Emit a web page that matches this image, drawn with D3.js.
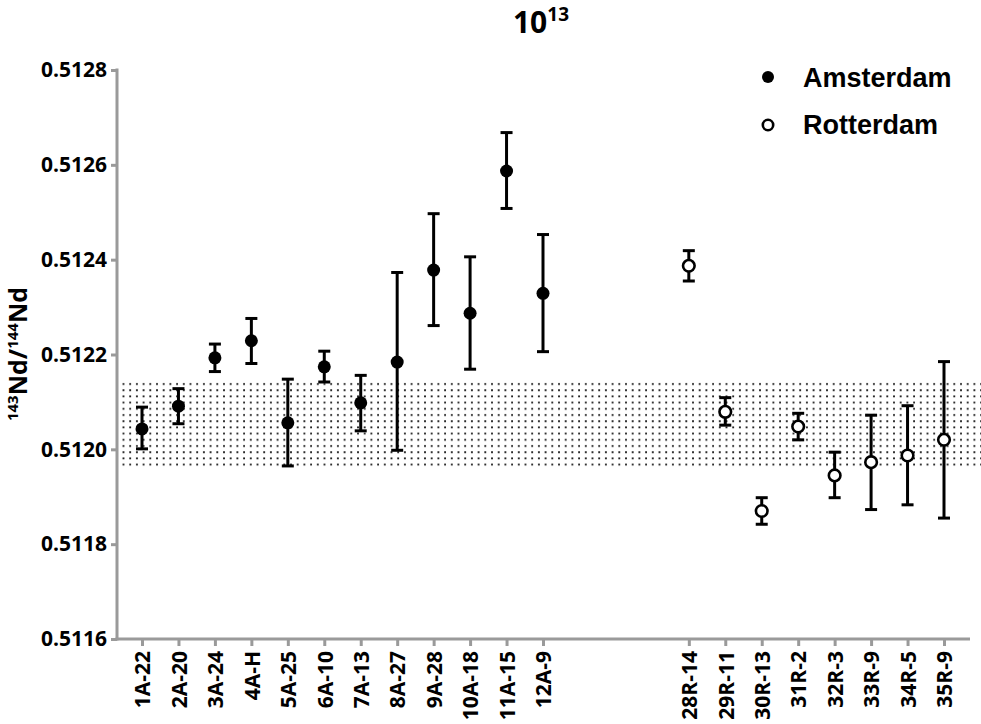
<!DOCTYPE html>
<html>
<head>
<meta charset="utf-8">
<script src="https://cdn.jsdelivr.net/npm/d3@7"></script>
<style>
  body { margin: 0; background: #fff; }
  svg { display: block; }
</style>
</head>
<body>
<svg id="chart" width="981" height="724"></svg>
<script>
// ---- data ----
const amsCategories = ["1A-22","2A-20","3A-24","4A-H","5A-25","6A-10","7A-13","8A-27","9A-28","10A-18","11A-15","12A-9"];
const amsMean = [0.512043,0.512091,0.512193,0.512229,0.512056,0.512174,0.512098,0.512184,0.512378,0.512287,0.512587,0.512329];
const amsLow  = [0.512001,0.512054,0.512164,0.512181,0.511965,0.512142,0.512039,0.511998,0.512261,0.512169,0.512508,0.512206];
const amsHigh = [0.512089,0.512128,0.512222,0.512276,0.512148,0.512207,0.512156,0.512373,0.512497,0.512406,0.512668,0.512453];

const gapCategories = ["_g1","_g2","_g3"];

const rotCategories = ["28R-14","29R-11","30R-13","31R-2","32R-3","33R-9","34R-5","35R-9"];
const rotMean = [0.512387,0.512079,0.511870,0.512048,0.511945,0.511973,0.511987,0.512020];
const rotLow  = [0.512355,0.512051,0.511842,0.512020,0.511898,0.511873,0.511883,0.511855];
const rotHigh = [0.512419,0.512109,0.511898,0.512076,0.511994,0.512072,0.512092,0.512185];

const bandRange = [0.511963, 0.512146];
const yTicks = [0.5116,0.5118,0.5120,0.5122,0.5124,0.5126,0.5128];
const yDomain = [0.5116, 0.5128];
const legendLabels = ["Amsterdam","Rotterdam"];

// ---- layout ----
const svg = d3.select("#chart");
const axisLeftX = 117, axisRightX = 970, yTop = 70, yBottom = 639;
const allCats = amsCategories.concat(gapCategories, rotCategories);

const x = d3.scalePoint().domain(allCats).range([142, 944]).padding(0);
const y = d3.scaleLinear().domain(yDomain).range([yBottom, yTop]);

const defs = svg.append("defs");
const pat = defs.append("pattern").attr("id","dots").attr("patternUnits","userSpaceOnUse")
  .attr("width", 6.7).attr("height", 6.2).attr("x", 0).attr("y", y(bandRange[1]) + 1);
pat.append("rect").attr("x",2).attr("y",2).attr("width",1.8).attr("height",1.8).attr("fill","#111");

// band
svg.append("rect")
  .attr("x", axisLeftX + 2).attr("width", 981 - axisLeftX - 2)
  .attr("y", y(bandRange[1])).attr("height", y(bandRange[0]) - y(bandRange[1]))
  .attr("fill", "url(#dots)");

// axes
const axisColor = "#9a9a9a";
const fontMain = "'Open Sans', sans-serif";
const yAxis = svg.append("g").attr("transform", `translate(${axisLeftX},0)`)
  .call(d3.axisLeft(y).tickValues(yTicks).tickFormat(d3.format(".4f")).tickSize(6).tickPadding(4));
yAxis.select(".domain").remove();
yAxis.selectAll(".tick line").attr("stroke", axisColor).attr("stroke-width", 3);
yAxis.selectAll(".tick text").attr("fill","#000").style("font-family", fontMain)
  .style("font-weight","bold").style("font-size","21px");

const xAxis = svg.append("g").attr("transform", `translate(0,${yBottom})`)
  .call(d3.axisBottom(x).tickValues(amsCategories.concat(rotCategories)).tickSize(7));
xAxis.select(".domain").remove();
xAxis.selectAll(".tick line").attr("stroke", axisColor).attr("stroke-width", 3);
xAxis.selectAll(".tick text")
  .attr("fill","#000")
  .attr("transform","rotate(-90)")
  .attr("x", -12).attr("y", 0).attr("dy","0.37em")
  .attr("text-anchor","end")
  .style("font-family", fontMain).style("font-weight","bold").style("font-size","21px");

svg.append("line").attr("x1", axisLeftX).attr("x2", axisLeftX).attr("y1", yTop - 1.5).attr("y2", yBottom + 1.5)
  .attr("stroke", axisColor).attr("stroke-width", 3);
svg.append("line").attr("x1", axisLeftX - 1.5).attr("x2", axisRightX).attr("y1", yBottom).attr("y2", yBottom)
  .attr("stroke", axisColor).attr("stroke-width", 3);

// data
const ams = amsCategories.map((c,i)=>({c, m: amsMean[i], lo: amsLow[i], hi: amsHigh[i]}));
const rot = rotCategories.map((c,i)=>({c, m: rotMean[i], lo: rotLow[i], hi: rotHigh[i]}));
const capHalf = 6;

function drawErr(data) {
  const g = svg.append("g").attr("stroke","#000").attr("stroke-width",3);
  g.selectAll(".v").data(data).join("line")
    .attr("x1", d=>x(d.c)).attr("x2", d=>x(d.c)).attr("y1", d=>y(d.hi)).attr("y2", d=>y(d.lo));
  g.selectAll(".t").data(data).join("line")
    .attr("x1", d=>x(d.c)-capHalf).attr("x2", d=>x(d.c)+capHalf).attr("y1", d=>y(d.hi)).attr("y2", d=>y(d.hi));
  g.selectAll(".b").data(data).join("line")
    .attr("x1", d=>x(d.c)-capHalf).attr("x2", d=>x(d.c)+capHalf).attr("y1", d=>y(d.lo)).attr("y2", d=>y(d.lo));
}
drawErr(ams);
drawErr(rot);

svg.append("g").selectAll("circle").data(ams).join("circle")
  .attr("cx", d=>x(d.c)).attr("cy", d=>y(d.m)).attr("r", 6.5).attr("fill","#000");
svg.append("g").selectAll("circle").data(rot).join("circle")
  .attr("cx", d=>x(d.c)).attr("cy", d=>y(d.m)).attr("r", 5.8).attr("fill","#fff")
  .attr("stroke","#000").attr("stroke-width",2.6);

// title
const title = svg.append("text").attr("x", 541).attr("y", 33).attr("text-anchor","middle")
  .style("font-family", fontMain).style("font-weight","bold").style("font-size","30px");
title.append("tspan").text("10");
title.append("tspan").attr("dy", -12).style("font-size","19px").text("13");

// y label
const yl = svg.append("text").attr("transform","translate(27,354) rotate(-90)").attr("text-anchor","middle")
  .style("font-family", fontMain).style("font-weight","bold").style("font-size","25px");
yl.append("tspan").attr("dy", -9).style("font-size","15px").text("143");
yl.append("tspan").attr("dy", 9).text("Nd/");
yl.append("tspan").attr("dy", -9).style("font-size","15px").text("144");
yl.append("tspan").attr("dy", 9).text("Nd");

// legend
const leg = svg.append("g");
leg.append("circle").attr("cx", 768).attr("cy", 77).attr("r", 6).attr("fill","#000");
leg.append("circle").attr("cx", 768).attr("cy", 125).attr("r", 5.2).attr("fill","#fff").attr("stroke","#000").attr("stroke-width",2.6);
leg.selectAll("text").data(legendLabels).join("text")
  .attr("x", 803).attr("y", (d,i)=> 87 + i*47)
  .style("font-family","'Liberation Sans', Arial, sans-serif").style("font-weight","bold").style("font-size","27px")
  .text(d=>d);
</script>
</body>
</html>
